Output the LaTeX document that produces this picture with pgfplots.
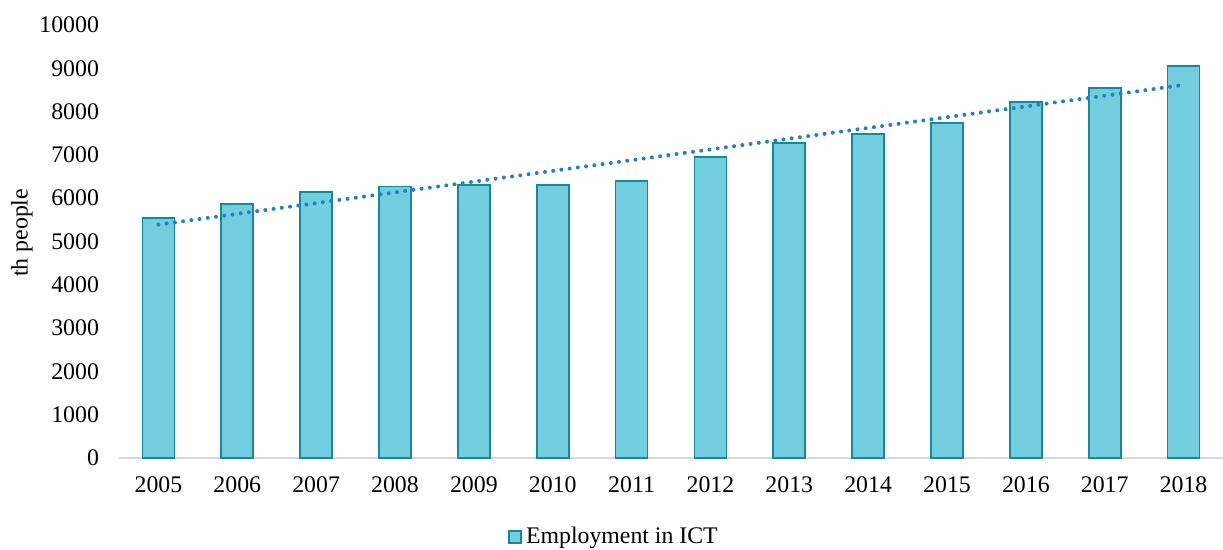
\documentclass[border=0pt]{standalone}
\usepackage{pgfplots}
\pgfplotsset{compat=1.18}
\usepackage{fontspec}
\setmainfont{Liberation Serif}
\definecolor{barfill}{RGB}{114,205,222}
\definecolor{barline}{RGB}{23,135,154}
\definecolor{trend}{RGB}{36,128,196}
\definecolor{axisgray}{RGB}{217,217,217}
\begin{document}
\begin{tikzpicture}
\path[use as bounding box] (-59.5pt,-46pt) rectangle (552pt,229pt);
\begin{axis}[
  scale only axis,
  width=552pt, height=216.5pt,
  xmin=-0.5, xmax=13.5,
  ymin=0, ymax=10000,
  enlargelimits=false,
  scaled y ticks=false,
  xtick={0,...,13},
  xticklabels={2005,2006,2007,2008,2009,2010,2011,2012,2013,2014,2015,2016,2017,2018},
  ytick={0,1000,...,10000},
  major tick length=0pt,
  axis x line*=bottom,
  axis y line*=left,
  x axis line style={draw=axisgray, line width=0.75pt, -},
  y axis line style={draw=none},
  /pgf/number format/assume math mode=true,
  /pgf/number format/1000 sep={},
  ticklabel style={font=\fontsize{11.9}{13}\selectfont},
  yticklabel style={xshift=-6.5pt},
  xticklabel style={yshift=-6pt},
  ylabel={th people},
  every axis y label/.style={at={(axis description cs:-0.0879,0.52)}, rotate=90, anchor=center, font=\fontsize{11.9}{13}\selectfont},
  legend style={at={(0.5,0)}, anchor=center, xshift=-28pt, yshift=-39.5pt, draw=none, fill=none, font=\fontsize{11.9}{13}\selectfont, inner sep=0pt},
  legend image code/.code={\draw[#1] (0pt,-3pt) rectangle (6pt,3pt);},
  clip=false,
]
\addplot[ybar, bar width=16pt, fill=barfill, draw=barline, line width=0.9pt]
  coordinates {(0,5540) (1,5870) (2,6150) (3,6270) (4,6300) (5,6300) (6,6390) (7,6950) (8,7275) (9,7480) (10,7740) (11,8220) (12,8540) (13,9050)};
\addlegendentry{Employment in ICT}
\addplot[forget plot, draw=trend, line width=2pt, line cap=round, dash pattern=on 0pt off 4.15pt]
  coordinates {(0,5390) (13,8615)};
\end{axis}
\end{tikzpicture}
\end{document}
